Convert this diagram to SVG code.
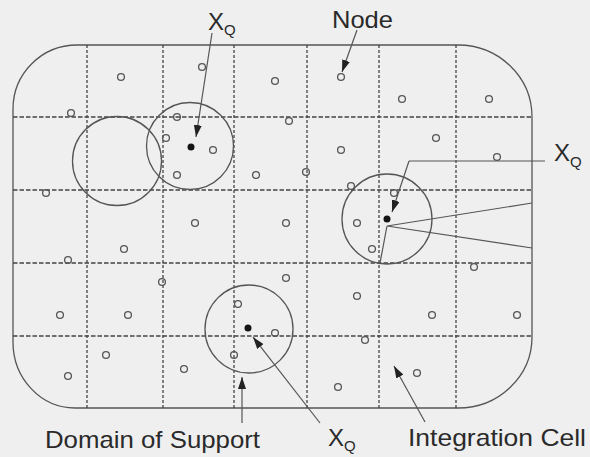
<svg xmlns="http://www.w3.org/2000/svg" width="590" height="457" viewBox="0 0 590 457">
<style>
.bg{fill:#efefef}
.frame{fill:none;stroke:#555;stroke-width:1.3}
.grid{stroke:#444;stroke-width:1.3;fill:none}
.gh{stroke-dasharray:4.5 2}
.gv{stroke-dasharray:3 2}
.nd{fill:none;stroke:#555;stroke-width:1.3}
.sup{fill:none;stroke:#555;stroke-width:1.3}
.qp{fill:#151515}
.ln{fill:none;stroke:#555;stroke-width:1.2}
.arr{fill:none;stroke:#555;stroke-width:1.2;marker-end:url(#ah)}
.t{font-family:"Liberation Sans",Arial,sans-serif;fill:#2a2a2a}
</style>
<defs>
<marker id="ah" markerUnits="userSpaceOnUse" markerWidth="13" markerHeight="8" refX="12" refY="4" orient="auto">
<path d="M0,0 L12,4 L0,8 z" fill="#222"/>
</marker>
</defs>
<rect class="bg" x="0" y="0" width="590" height="457"/>
<g id="domain">
<path class="frame" d="M77,45 H458 A74,72 0 0 1 532,117 V337 A74,71 0 0 1 458,408 H75 A62,66 0 0 1 13,342 V109 A64,64 0 0 1 77,45 Z"/>
</g>
<g id="integration-cells">
<line class="grid gv" x1="87" y1="45" x2="87" y2="408"/>
<line class="grid gv" x1="163" y1="45" x2="163" y2="408"/>
<line class="grid gv" x1="234" y1="45" x2="234" y2="408"/>
<line class="grid gv" x1="307" y1="45" x2="307" y2="408"/>
<line class="grid gv" x1="379" y1="45" x2="379" y2="408"/>
<line class="grid gv" x1="456" y1="45" x2="456" y2="408"/>
<line class="grid gh" x1="13" y1="117" x2="532" y2="117"/>
<line class="grid gh" x1="13" y1="190" x2="532" y2="190"/>
<line class="grid gh" x1="13" y1="263" x2="532" y2="263"/>
<line class="grid gh" x1="13" y1="336" x2="532" y2="336"/>
</g>
<g id="nodes">
<circle class="nd" cx="121" cy="77" r="3.4"/>
<circle class="nd" cx="202" cy="67" r="3.4"/>
<circle class="nd" cx="275" cy="81" r="3.4"/>
<circle class="nd" cx="71" cy="113" r="3.4"/>
<circle class="nd" cx="177" cy="117" r="3.4"/>
<circle class="nd" cx="289" cy="121" r="3.4"/>
<circle class="nd" cx="166" cy="138" r="3.4"/>
<circle class="nd" cx="213" cy="150" r="3.4"/>
<circle class="nd" cx="177" cy="175" r="3.4"/>
<circle class="nd" cx="256" cy="175" r="3.4"/>
<circle class="nd" cx="46" cy="193" r="3.4"/>
<circle class="nd" cx="195" cy="223" r="3.4"/>
<circle class="nd" cx="286" cy="223" r="3.4"/>
<circle class="nd" cx="341" cy="77" r="3.4"/>
<circle class="nd" cx="402" cy="99" r="3.4"/>
<circle class="nd" cx="489" cy="99" r="3.4"/>
<circle class="nd" cx="436" cy="138" r="3.4"/>
<circle class="nd" cx="341" cy="150" r="3.4"/>
<circle class="nd" cx="497" cy="157" r="3.4"/>
<circle class="nd" cx="306" cy="172" r="3.4"/>
<circle class="nd" cx="351" cy="186" r="3.4"/>
<circle class="nd" cx="394" cy="193" r="3.4"/>
<circle class="nd" cx="357" cy="223" r="3.4"/>
<circle class="nd" cx="124" cy="249" r="3.4"/>
<circle class="nd" cx="68" cy="260" r="3.4"/>
<circle class="nd" cx="162" cy="282" r="3.4"/>
<circle class="nd" cx="286" cy="278" r="3.4"/>
<circle class="nd" cx="238" cy="304" r="3.4"/>
<circle class="nd" cx="60" cy="315" r="3.4"/>
<circle class="nd" cx="128" cy="315" r="3.4"/>
<circle class="nd" cx="275" cy="333" r="3.4"/>
<circle class="nd" cx="106" cy="355" r="3.4"/>
<circle class="nd" cx="234" cy="355" r="3.4"/>
<circle class="nd" cx="184" cy="369" r="3.4"/>
<circle class="nd" cx="68" cy="376" r="3.4"/>
<circle class="nd" cx="372" cy="249" r="3.4"/>
<circle class="nd" cx="474" cy="267" r="3.4"/>
<circle class="nd" cx="357" cy="296" r="3.4"/>
<circle class="nd" cx="432" cy="315" r="3.4"/>
<circle class="nd" cx="517" cy="315" r="3.4"/>
<circle class="nd" cx="365" cy="340" r="3.4"/>
<circle class="nd" cx="417" cy="373" r="3.4"/>
<circle class="nd" cx="338" cy="387" r="3.4"/>
</g>
<g id="support-left">
<circle class="sup" cx="117" cy="161" r="44.5"/>
</g>
<g id="support-top">
<circle class="sup" cx="190" cy="146" r="43.5"/>
<circle class="qp" cx="191" cy="147" r="3.5"/>
</g>
<g id="support-right">
<circle class="sup" cx="387" cy="219" r="45"/>
<circle class="qp" cx="387" cy="219" r="3.5"/>
</g>
<g id="support-bottom">
<circle class="sup" cx="249" cy="329" r="44"/>
<circle class="qp" cx="248" cy="328" r="3.5"/>
</g>
<g id="connectors">
<line class="arr" x1="212" y1="33" x2="196" y2="137"/>
<line class="arr" x1="357" y1="30" x2="342" y2="72"/>
<polyline class="ln" points="545,161 409,161"/>
<line class="arr" x1="409" y1="161" x2="392" y2="212"/>
<polyline class="ln" points="532,203 387,226 532,248"/>
<line class="ln" x1="387" y1="226" x2="380" y2="263"/>
<line class="arr" x1="242" y1="423" x2="242" y2="377"/>
<line class="arr" x1="320" y1="423" x2="253" y2="337"/>
<line class="arr" x1="425" y1="422" x2="394" y2="366"/>
</g>
<g id="labels">
<text class="t" x="332" y="28" font-size="24" textLength="61" lengthAdjust="spacingAndGlyphs">Node</text>
<text class="t" x="208" y="30" font-size="24">X</text><text class="t" x="224" y="35" font-size="15">Q</text>
<text class="t" x="554" y="161" font-size="24">X</text><text class="t" x="570" y="167" font-size="15">Q</text>
<text class="t" x="328" y="446" font-size="24">X</text><text class="t" x="344" y="451" font-size="15">Q</text>
<text class="t" x="45" y="448" font-size="24" textLength="215" lengthAdjust="spacingAndGlyphs">Domain of Support</text>
<text class="t" x="408" y="446" font-size="24" textLength="178" lengthAdjust="spacingAndGlyphs">Integration Cell</text>
</g>
</svg>
